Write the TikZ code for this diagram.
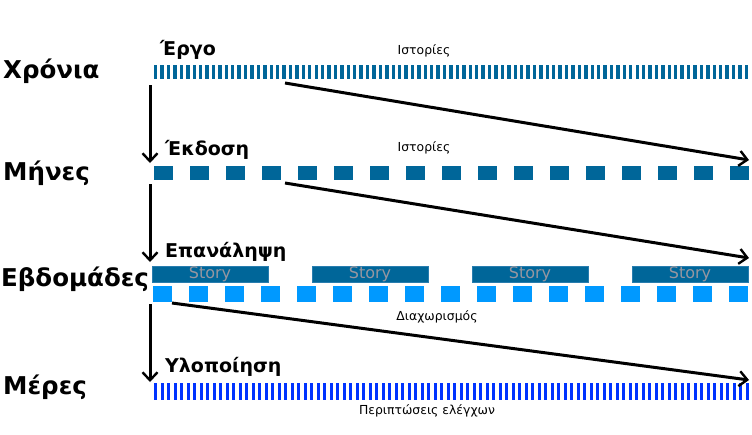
\documentclass[tikz,border=0pt]{standalone}
\usepackage{fontspec}
\setmainfont{DejaVu Sans}
\usetikzlibrary{arrows.meta}
\definecolor{darkbar}{RGB}{0,102,153}
\definecolor{lightbar}{RGB}{0,153,255}
\definecolor{daybar}{RGB}{0,51,255}
\definecolor{storytext}{RGB}{150,150,160}
\definecolor{storyedge}{RGB}{40,125,175}
\tikzset{
  x=1pt, y=-1pt,
  biglabel/.style={anchor=base west, inner sep=0pt, font=\bfseries\fontsize{24.5}{28}\selectfont},
  sublabel/.style={anchor=base west, inner sep=0pt, font=\bfseries\fontsize{19}{22}\selectfont},
  smalllabel/.style={anchor=center, inner sep=0pt, font=\fontsize{12.4}{14}\selectfont},
  rowbox/.style={anchor=north west, inner sep=0pt, outer sep=0pt},
  storybar/.style={rowbox, fill=darkbar, draw=storyedge, line width=0.8pt, minimum width=116pt, minimum height=16pt, text=storytext, font=\fontsize{16}{18}\selectfont},
  flow/.style={line width=3pt, -{Straight Barb[length=8pt,width=15pt,line width=2.4pt]}},
}
\begin{document}
\begin{tikzpicture}
\useasboundingbox (0,0) rectangle (752,434);

% left labels
\node[biglabel] (years) at (3,78) {Χρόνια};
\node[biglabel] (months) at (3,180) {Μήνες};
\node[biglabel] (weeks) at (1,286) {Εβδομάδες};
\node[biglabel] (days) at (3,394) {Μέρες};

% sub labels
\node[sublabel] (project) at (160,55) {Έργο};
\node[sublabel] (release) at (165,155) {Έκδοση};
\node[sublabel] (iteration) at (165,257) {Επανάληψη};
\node[sublabel] (impl) at (165,372) {Υλοποίηση};

% small labels
\node[smalllabel] (stories1) at (424,51) {Ιστορίες};
\node[smalllabel] (stories2) at (424,148) {Ιστορίες};
\node[smalllabel] (split) at (437,317) {Διαχωρισμός};
\node[smalllabel] (tests) at (427,411) {Περιπτώσεις ελέγχων};

% row frames (invisible)
\node[rowbox, minimum width=594pt, minimum height=14pt] (row1) at (154,65) {};
\node[rowbox, minimum width=594pt, minimum height=14pt] (row2) at (154,166) {};
\node[rowbox, minimum width=596pt, minimum height=16pt] (row3) at (152,266) {};
\node[rowbox, minimum width=594pt, minimum height=17pt] (row4) at (154,383) {};

% row 1: years stripes
\foreach \i in {0,...,92}
  \fill[darkbar] ({154+\i*6.42},65) rectangle ++(3.4,14);

% row 2: months squares
\foreach \i in {0,...,16}
  \fill[darkbar] ({154+\i*36},166) rectangle ++(19,14);

% row 3: stories and weeks squares
\foreach \i in {0,...,3}
  \node[storybar] (story\i) at ({152+\i*160},266) {Story};
\foreach \i in {0,...,16}
  \fill[lightbar] ({153+\i*36},286) rectangle ++(19,16);

% row 4: days stripes
\foreach \i in {0,...,91}
  \fill[daybar] ({154+\i*6.5},383) rectangle ++(3.4,17);

% arrow end points
\coordinate (v1s) at (150,85);  \coordinate (v1e) at (150,163);
\coordinate (v2s) at (150,184); \coordinate (v2e) at (150,262);
\coordinate (v3s) at (150,304); \coordinate (v3e) at (150,382);
\coordinate (d1s) at (285,83);  \coordinate (d1e) at (749,160);
\coordinate (d2s) at (285,183); \coordinate (d2e) at (749,258);
\coordinate (d3s) at (172,303); \coordinate (d3e) at (749,380);

\draw[flow] (v1s) -- (v1e);
\draw[flow] (v2s) -- (v2e);
\draw[flow] (v3s) -- (v3e);
\draw[flow] (d1s) -- (d1e);
\draw[flow] (d2s) -- (d2e);
\draw[flow] (d3s) -- (d3e);
\end{tikzpicture}
\end{document}
